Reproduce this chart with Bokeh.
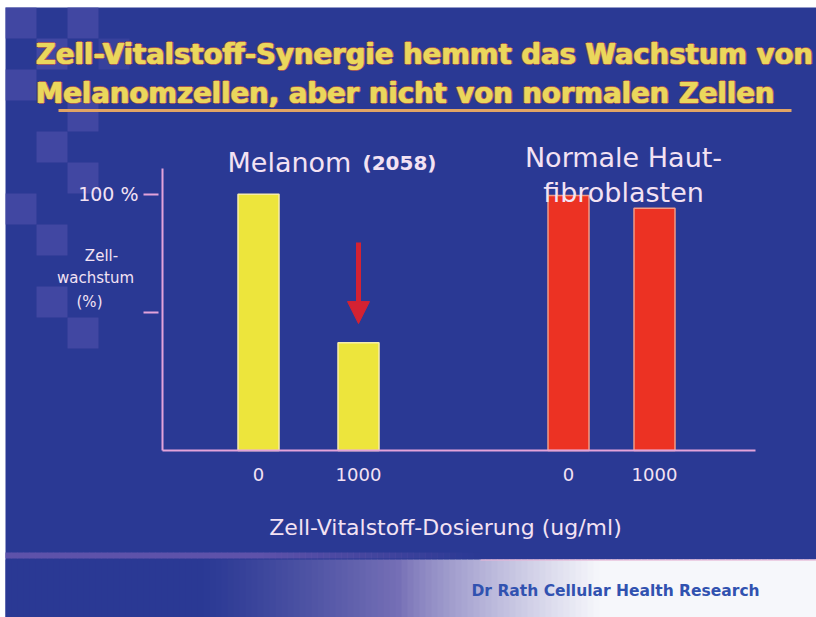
from bokeh.plotting import figure
from bokeh.models import (Range1d, FixedTicker, Label, BoxAnnotation, Arrow,
                          NormalHead, ColumnDataSource)
from bokeh.embed import file_html
from bokeh.resources import INLINE

# ---------------- data ----------------
title_lines = ["Zell-Vitalstoff-Synergie hemmt das Wachstum von",
               "Melanomzellen, aber nicht von normalen Zellen"]
group_names = ["Melanom", "(2058)"]
group2_lines = ["Normale Haut-", "fibroblasten"]
dose_labels = ["0", "1000", "0", "1000"]
growth = [100, 42, 99.5, 94.5]          # Zellwachstum in %
bar_group = ["melanom", "melanom", "fibro", "fibro"]
y_ticks = [54, 100]
y_tick_labels = ["", "100 %"]
y_title_lines = ["Zell-", "wachstum", "(%)"]
x_title = "Zell-Vitalstoff-Dosierung (ug/ml)"
footer = "Dr Rath Cellular Health Research"

# ---------------- layout (page pixels) ----------------
W, H = 816, 617
AX_X, AX_Y = 162, 450            # axis positions
AX_TOP, AX_RIGHT = 168, 755
YMAX = 110
PXPP = (AX_Y - AX_TOP) / YMAX    # pixels per percent
bar_x = [258, 358, 568, 654]
bar_w = 41

BG = (42, 57, 148)
BGHEX = "#%02x%02x%02x" % BG
AXC = "#E3A3DA"
TXT = "#F3E2F3"


def Yd(py):
    return (AX_Y - py) / PXPP


p = figure(width=W, height=H, x_range=Range1d(0, W), y_range=Range1d(Yd(H), Yd(0)),
           output_backend="svg", toolbar_location=None, title=None, min_border=0)
p.min_border_left = 0
p.min_border_right = 0
p.min_border_top = 0
p.min_border_bottom = 0
p.background_fill_color = "white"
p.border_fill_color = "white"
p.outline_line_color = None
p.xgrid.visible = False
p.ygrid.visible = False

# ---------- slide background ----------
p.add_layout(BoxAnnotation(left=5, right=W + 2, top=Yd(7), bottom=Yd(H + 2),
                           fill_color=BGHEX, fill_alpha=1, line_color=None, level="underlay"))

# ---------- checkerboard decoration ----------
cells = [(0, 0), (0, 2), (1, 1), (1, 3), (2, 0), (3, 2), (4, 1), (5, 2),
         (6, 0), (7, 1), (9, 1), (10, 2)]
for r, c in cells:
    x0 = 5 + 31 * c
    y0 = 7 + 31 * r
    a = 0.4 if (r, c) == (1, 3) else 0.7
    p.add_layout(BoxAnnotation(left=x0, right=x0 + 31, top=Yd(y0), bottom=Yd(y0 + 31),
                               fill_color="#4C4DA8", fill_alpha=a, line_color=None,
                               level="underlay"))


# ---------- bottom band with gradient ----------
def lerp(a, b, t):
    return tuple(int(round(a[i] + (b[i] - a[i]) * t)) for i in range(3))


PURP = (118, 112, 182)
WHITE = (246, 247, 251)
step = 6
for sx in range(5, W, step):
    cx = sx + step / 2
    t = min(max((cx - 200) / 400, 0), 1)
    if t < 0.5:
        col = lerp(BG, PURP, (t / 0.5) ** 1.2)
    else:
        col = lerp(PURP, WHITE, ((t - 0.5) / 0.5) ** 0.8)
    p.add_layout(BoxAnnotation(left=sx, right=sx + step + 0.5, top=Yd(559), bottom=Yd(H + 2),
                               fill_color="#%02x%02x%02x" % col, fill_alpha=1,
                               line_color=None, level="underlay"))
    la = 1.0 if cx < 260 else max(0.0, 1 - (cx - 260) / 220)
    if la > 0:
        p.add_layout(BoxAnnotation(left=sx, right=sx + step + 0.5, top=Yd(552), bottom=Yd(558),
                                   fill_color="#5E52AA", fill_alpha=la, line_color=None,
                                   level="underlay"))
p.add_layout(BoxAnnotation(left=480, right=W + 2, top=Yd(558.5), bottom=Yd(560.5),
                           fill_color="#E6B4D6", fill_alpha=0.6, line_color=None,
                           level="underlay"))

# ---------- title (outlined, heavy) ----------
fringe = [(-1.0, 0), (1.8, 0), (0.4, -1.0), (0.4, 1.0)]
for line, base in zip(title_lines, [53, 92]):
    for dx, dy in fringe:
        p.add_layout(Label(x=35 + dx, y=Yd(base + dy), text=line, text_font="DejaVu Sans",
                           text_font_style="bold", text_font_size="27.5px",
                           text_color="#B8604E", text_alpha=0.85,
                           text_align="left", text_baseline="alphabetic"))
    for dx in (0, 0.8):
        p.add_layout(Label(x=35 + dx, y=Yd(base), text=line, text_font="DejaVu Sans",
                           text_font_style="bold", text_font_size="27.5px", text_color="#EAD75C",
                           text_align="left", text_baseline="alphabetic"))
p.add_layout(BoxAnnotation(left=58, right=791, top=Yd(108.5), bottom=Yd(111.5),
                           fill_color="#E2A464", fill_alpha=1, line_color=None))

# ---------- bars ----------
colors = ["#EDE53C" if g == "melanom" else "#EC3223" for g in bar_group]
edges = ["#F7EDA8" if g == "melanom" else "#F29A84" for g in bar_group]
src = ColumnDataSource(dict(x=bar_x, top=growth, color=colors, edge=edges))
p.vbar(x="x", top="top", bottom=0, width=bar_w, source=src, fill_color="color",
       line_color="edge", line_width=1.5)

# ---------- axes (fixed inside the frame) ----------
ya = p.yaxis[0]
ya.fixed_location = AX_X
ya.bounds = (0, YMAX)
ya.ticker = FixedTicker(ticks=y_ticks)
ya.major_label_overrides = dict(zip(y_ticks, y_tick_labels))
ya.axis_line_color = AXC
ya.axis_line_width = 2
ya.major_tick_line_color = AXC
ya.major_tick_line_width = 2
ya.major_tick_in = -4
ya.major_tick_out = 19
ya.minor_tick_line_color = None
ya.major_label_standoff = 5
ya.major_label_text_font = "DejaVu Sans"
ya.major_label_text_font_size = "19px"
ya.major_label_text_color = TXT

xa = p.xaxis[0]
xa.fixed_location = 0
xa.bounds = (AX_X, AX_RIGHT)
xa.ticker = FixedTicker(ticks=bar_x)
xa.major_label_overrides = dict(zip(bar_x, dose_labels))
xa.axis_line_color = AXC
xa.axis_line_width = 2
xa.major_tick_line_color = None
xa.major_tick_in = 0
xa.major_tick_out = 0
xa.minor_tick_line_color = None
xa.major_label_standoff = 17
xa.major_label_text_font = "DejaVu Sans"
xa.major_label_text_font_size = "18px"
xa.major_label_text_color = TXT

# ---------- arrow ----------
tip = growth[1] + 7.5
p.add_layout(Arrow(end=NormalHead(size=22, fill_color="#D42232", line_color="#D42232"),
                   x_start=bar_x[1], y_start=Yd(242), x_end=bar_x[1], y_end=tip,
                   line_color="#D42232", line_width=5))

# ---------- text labels ----------
p.add_layout(Label(x=227, y=Yd(162), text=group_names[0], text_font="DejaVu Sans",
                   text_font_size="27px", text_color=TXT, text_align="left",
                   text_baseline="alphabetic"))
p.add_layout(Label(x=362, y=Yd(162), text=group_names[1], text_font="DejaVu Sans",
                   text_font_style="bold", text_font_size="20px", text_color=TXT,
                   text_align="left", text_baseline="alphabetic"))
for line, base in zip(group2_lines, [156.5, 192]):
    p.add_layout(Label(x=623, y=Yd(base), text=line, text_font="DejaVu Sans",
                       text_font_size="27px", text_color=TXT, text_align="center",
                       text_baseline="alphabetic"))
for line, cx, cy in zip(y_title_lines, [101, 95, 89], [255, 277, 301]):
    p.add_layout(Label(x=cx, y=Yd(cy), text=line, text_font="DejaVu Sans",
                       text_font_size="15px", text_color=TXT, text_align="center",
                       text_baseline="middle"))
p.add_layout(Label(x=445, y=Yd(527), text=x_title, text_font="DejaVu Sans",
                   text_font_size="22px", text_color=TXT, text_align="center",
                   text_baseline="alphabetic"))
p.add_layout(Label(x=471, y=Yd(590), text=footer, text_font="DejaVu Sans",
                   text_font_style="bold", text_font_size="15.5px", text_color="#3152B0",
                   text_align="left", text_baseline="alphabetic"))

open("out.html", "w").write(file_html(p, INLINE))
